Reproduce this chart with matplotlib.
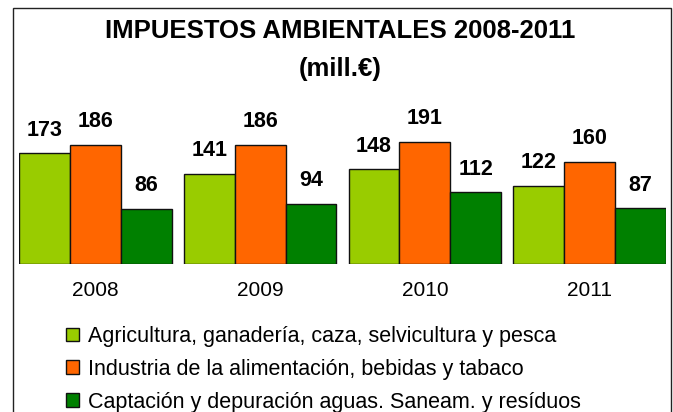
import numpy as np
import matplotlib
matplotlib.use('Agg')
import matplotlib.pyplot as plt
from matplotlib.patches import Rectangle

# data (mill. euros)
years = ['2008', '2009', '2010', '2011']
agricultura = [173, 141, 148, 122]
industria = [186, 186, 191, 160]
captacion = [86, 94, 112, 87]
series_names = ['Agricultura, ganadería, caza, selvicultura y pesca',
                'Industria de la alimentación, bebidas y tabaco',
                'Captación y depuración aguas. Saneam. y resíduos']
colors = ['#99CC00', '#FF6600', '#008000']

plt.rcParams['font.family'] = ['Liberation Sans', 'DejaVu Sans']

W, H = 673, 412
fig = plt.figure(figsize=(W / 100, H / 100), dpi=100)

# axes placed in pixels: bars from x=19 to 666, baseline at y=264
ax = fig.add_axes([19 / W, (H - 264) / H, 647 / W, 164 / H])
x = np.arange(len(years))
w = 0.309
bars = []
for i, (vals, c) in enumerate(zip([agricultura, industria, captacion], colors)):
    b = ax.bar(x + (i - 1) * w, vals, w, color=c, edgecolor='#111111', linewidth=1.0)
    bars.append(b)
    for xi, v in zip(x + (i - 1) * w, vals):
        ax.annotate(str(v), (xi, v), xytext=(0, 9), textcoords='offset points',
                    ha='center', va='bottom', fontsize=15.5, fontweight='bold')

ax.set_xlim(-1.5 * w, 3 + 1.5 * w)
ax.set_ylim(0, 256)
ax.set_xticks(x)
ax.set_xticklabels(years, fontsize=15)
ax.tick_params(axis='x', length=0, pad=12.5)
ax.set_yticks([])
for s in ax.spines.values():
    s.set_visible(False)
ax.patch.set_alpha(0)

# title
fig.text(340 / W, 1 - 31 / H, 'IMPUESTOS AMBIENTALES 2008-2011', ha='center', va='center',
         fontsize=18.5, fontweight='bold')
fig.text(340 / W, 1 - 69 / H, '(mill.€)', ha='center', va='center',
         fontsize=18.5, fontweight='bold')

# legend
leg = fig.legend(bars, series_names, loc='upper left', bbox_to_anchor=(66 / W, 1 - 326 / H),
                 frameon=False, borderpad=0, borderaxespad=0, handlelength=0.6, handleheight=0.6,
                 handletextpad=0.4, labelspacing=0.55,
                 prop={'family': ['Liberation Sans Narrow', 'Liberation Sans'], 'size': 15.5})

# outer frame (open at the bottom)
fig.add_artist(Rectangle((13 / W, -0.05), (671 - 13) / W, (H - 8) / H + 0.05,
                         transform=fig.transFigure, fill=False, lw=1.0, ec='#222222'))

fig.savefig('out.png', dpi=100)
